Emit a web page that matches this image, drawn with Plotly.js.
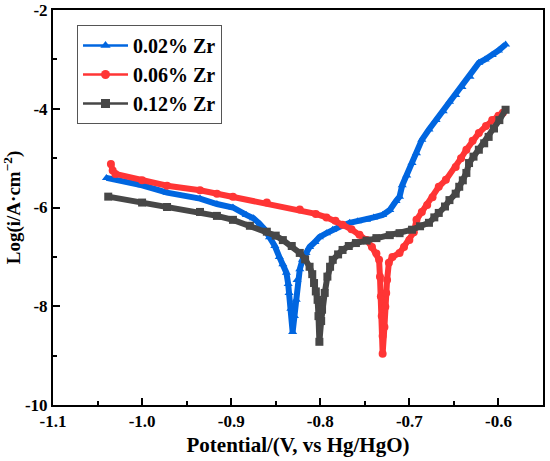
<!DOCTYPE html>
<html><head><meta charset="utf-8">
<script src="https://cdn.plot.ly/plotly-3.0.1.min.js"></script>
<style>html,body{margin:0;padding:0;background:#fff}#c{width:550px;height:461px}</style>
</head><body><div id="c"></div>
<script>
var names = ["0.02% Zr", "0.06% Zr", "0.12% Zr"];
var colors = ["#0066e0", "#ff3535", "#474747"];
var symbols = ["triangle-up", "circle", "square"];

var blueE = [-1.040,-1.000,-0.972,-0.935,-0.916,-0.898,-0.883,-0.875,-0.868,-0.862,-0.857,-0.851,-0.846,-0.842,-0.838,-0.836,-0.835,-0.833,-0.831,-0.829,-0.827,-0.826,-0.823,-0.820,-0.816,-0.812,-0.806,-0.801,-0.793,-0.786,-0.777,-0.767,-0.758,-0.748,-0.740,-0.730,-0.722,-0.715,-0.711,-0.708,-0.703,-0.697,-0.692,-0.686,-0.678,-0.670,-0.662,-0.655,-0.648,-0.641,-0.632,-0.622,-0.615,-0.607,-0.600,-0.592];
var blueI = [-5.40,-5.55,-5.70,-5.82,-5.93,-6.00,-6.15,-6.22,-6.33,-6.45,-6.60,-6.78,-7.00,-7.15,-7.32,-7.55,-7.73,-8.05,-8.52,-8.20,-7.87,-7.47,-7.25,-7.06,-6.92,-6.80,-6.70,-6.60,-6.52,-6.45,-6.38,-6.31,-6.28,-6.25,-6.20,-6.15,-6.05,-5.87,-5.78,-5.55,-5.35,-5.10,-4.90,-4.63,-4.42,-4.23,-4.05,-3.86,-3.72,-3.56,-3.35,-3.07,-3.00,-2.91,-2.82,-2.70];

var redE = [-1.035,-1.033,-1.030,-1.000,-0.972,-0.935,-0.916,-0.898,-0.860,-0.823,-0.805,-0.793,-0.783,-0.775,-0.765,-0.756,-0.748,-0.742,-0.737,-0.734,-0.733,-0.732,-0.731,-0.730,-0.730,-0.728,-0.727,-0.726,-0.725,-0.723,-0.719,-0.711,-0.706,-0.700,-0.695,-0.692,-0.686,-0.680,-0.674,-0.667,-0.659,-0.648,-0.642,-0.636,-0.629,-0.622,-0.614,-0.607,-0.600,-0.595];
var redI = [-5.12,-5.25,-5.32,-5.45,-5.56,-5.65,-5.72,-5.78,-5.90,-6.04,-6.13,-6.20,-6.27,-6.35,-6.44,-6.55,-6.66,-6.80,-6.93,-7.06,-7.40,-7.80,-8.20,-8.60,-8.96,-8.42,-8.01,-7.73,-7.47,-7.12,-7.00,-6.92,-6.80,-6.66,-6.50,-6.25,-6.09,-5.95,-5.79,-5.58,-5.44,-5.18,-5.00,-4.83,-4.65,-4.49,-4.35,-4.23,-4.14,-4.08];

var grayE = [-1.038,-1.000,-0.972,-0.935,-0.916,-0.898,-0.879,-0.860,-0.850,-0.842,-0.832,-0.823,-0.817,-0.812,-0.809,-0.807,-0.805,-0.803,-0.802,-0.801,-0.799,-0.798,-0.795,-0.792,-0.789,-0.786,-0.780,-0.775,-0.768,-0.760,-0.748,-0.737,-0.722,-0.711,-0.697,-0.688,-0.678,-0.672,-0.667,-0.660,-0.655,-0.648,-0.644,-0.640,-0.636,-0.633,-0.628,-0.622,-0.616,-0.611,-0.605,-0.599,-0.592];
var grayI = [-5.78,-5.90,-5.99,-6.09,-6.17,-6.25,-6.37,-6.49,-6.57,-6.66,-6.78,-6.92,-7.05,-7.20,-7.35,-7.53,-7.70,-7.87,-8.20,-8.72,-8.30,-8.07,-7.73,-7.40,-7.20,-7.06,-6.95,-6.86,-6.78,-6.72,-6.67,-6.62,-6.56,-6.52,-6.45,-6.38,-6.31,-6.20,-6.11,-5.98,-5.85,-5.72,-5.58,-5.45,-5.30,-5.10,-4.97,-4.83,-4.70,-4.57,-4.40,-4.23,-4.02];

var xTicks = [-1.1, -1.0, -0.9, -0.8, -0.7, -0.6];
var xTickText = ["-1.1", "-1.0", "-0.9", "-0.8", "-0.7", "-0.6"];
var yTicks = [-10, -8, -6, -4, -2];
var yTickText = ["-10", "-8", "-6", "-4", "-2"];

var xs = [blueE, redE, grayE], ys = [blueI, redI, grayI];
var data = xs.map(function(x, i){
  return {x: x, y: ys[i], name: names[i], type: 'scatter', mode: 'lines+markers',
    showlegend: false,
    line: {color: colors[i], width: 6},
    marker: {color: colors[i], symbol: symbols[i], size: 8}};
});
// legend entries (thin line + marker, as in the reference legend)
names.forEach(function(n, i){
  data.push({x: [null], y: [null], name: n, type: 'scatter', mode: 'lines+markers',
    line: {color: colors[i], width: 2.5},
    marker: {color: colors[i], symbol: symbols[i], size: 9}});
});

var font = "Liberation Serif, Times New Roman, serif";
var layout = {
  width: 550, height: 461,
  margin: {l: 53, r: 7, t: 10, b: 56},
  paper_bgcolor: '#fff', plot_bgcolor: '#fff',
  font: {family: font, color: '#000'},
  showlegend: true,
  legend: {x: 0.049, y: 0.962, xanchor: 'left', yanchor: 'top',
    bordercolor: '#555', borderwidth: 1, bgcolor: '#fff',
    font: {family: font, size: 20, color: '#000', weight: 'bold'},
    itemwidth: 45, tracegroupgap: 0},
  xaxis: {range: [-1.1, -0.55], tickvals: xTicks, ticktext: xTickText,
    ticks: 'inside', ticklen: 7, tickwidth: 2, tickcolor: '#000',
    minor: {ticks: 'inside', dtick: 0.05, ticklen: 4, tickwidth: 2, tickcolor: '#000'},
    showline: true, linewidth: 2, linecolor: '#000', mirror: true,
    showgrid: false, zeroline: false,
    tickfont: {family: font, size: 17, weight: 'bold'},
    title: {text: 'Potential/(V, vs Hg/HgO)', font: {family: font, size: 21, weight: 'bold'}, standoff: 7}},
  yaxis: {range: [-10, -2], tickvals: yTicks, ticktext: yTickText,
    ticks: 'inside', ticklen: 7, tickwidth: 2, tickcolor: '#000',
    minor: {ticks: 'inside', dtick: 1, ticklen: 4, tickwidth: 2, tickcolor: '#000'},
    showline: true, linewidth: 2, linecolor: '#000', mirror: true,
    showgrid: false, zeroline: false,
    tickfont: {family: font, size: 17, weight: 'bold'},
    title: {text: 'Log(i/A·cm<sup>−2</sup>)', font: {family: font, size: 19, weight: 'bold'}, standoff: 4}}
};
Plotly.newPlot('c', data, layout, {staticPlot: true, displayModeBar: false});
</script></body></html>
